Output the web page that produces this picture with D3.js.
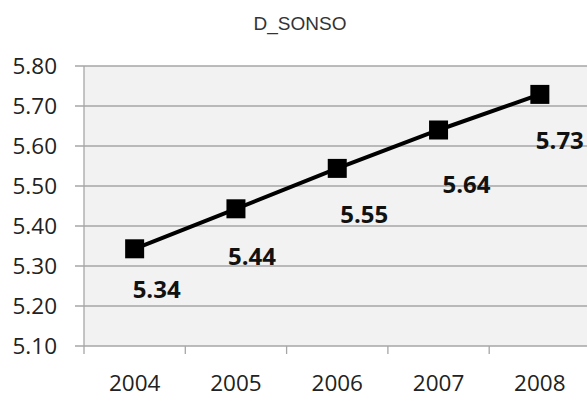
<!DOCTYPE html>
<html><head><meta charset="utf-8">
<script src="https://cdn.jsdelivr.net/npm/d3@7"></script>
<style>body{margin:0;background:#fff}svg{display:block}</style>
</head><body>
<svg id="c" width="587" height="398"></svg>
<script>
const title = "D_SONSO";
const years = ["2004","2005","2006","2007","2008"];
const values = [5.343, 5.443, 5.544, 5.640, 5.729];
const labels = ["5.34","5.44","5.55","5.64","5.73"];
const yTicks = [5.10,5.20,5.30,5.40,5.50,5.60,5.70,5.80];
// manual label offsets (px) as placed in the original chart
const labelDx = [22, 16, 27, 28, 20];
const labelDy = [41, 48, 46, 54, 46];

(function(){
const svg = d3.select("#c");
const pL = 84, pR = 590.5, pT = 66, pB = 346;
const x = d3.scaleBand().domain(years).range([pL, pR]);
const y = d3.scaleLinear().domain([5.10, 5.80]).range([pB, pT]);

svg.append("text").attr("x", 300).attr("y", 30).attr("text-anchor","middle")
  .attr("font-family","Liberation Sans, Arial, sans-serif").attr("font-size",19)
  .attr("fill","#333").text(title);

svg.append("rect").attr("x",pL).attr("y",pT).attr("width",pR-pL).attr("height",pB-pT).attr("fill","#f2f2f2");

svg.append("g").selectAll("line").data(yTicks).join("line")
  .attr("x1", pL-9).attr("x2", pR).attr("y1", d=>y(d)).attr("y2", d=>y(d))
  .attr("stroke","#a6a6a6").attr("stroke-width",1.3);

svg.append("line").attr("x1",pL).attr("x2",pL).attr("y1",pT).attr("y2",pB+8)
  .attr("stroke","#a6a6a6").attr("stroke-width",1.3);

const xt = years.slice(1).map(d=>x(d));
svg.append("g").selectAll("line").data(xt).join("line")
  .attr("x1",d=>d).attr("x2",d=>d).attr("y1",pB).attr("y2",pB+8)
  .attr("stroke","#a6a6a6").attr("stroke-width",1.3);

svg.append("g").selectAll("text").data(yTicks).join("text")
  .attr("x",57).attr("y",d=>y(d)+8).attr("text-anchor","end")
  .attr("font-family","Open Sans, sans-serif").attr("font-size",22.5).attr("fill","#222")
  .text(d=>d.toFixed(2));

svg.append("g").selectAll("text").data(years).join("text")
  .attr("x",d=>x(d)+x.bandwidth()/2).attr("y",391).attr("text-anchor","middle")
  .attr("font-family","Open Sans, sans-serif").attr("font-size",22.5).attr("fill","#222")
  .text(d=>d);

const cx = i => x(years[i]) + x.bandwidth()/2;
const line = d3.line().x((d,i)=>cx(i)).y(d=>y(d));
svg.append("path").datum(values).attr("d",line).attr("fill","none")
  .attr("stroke","#000").attr("stroke-width",4);

const ms = 19;
svg.append("g").selectAll("rect").data(values).join("rect")
  .attr("x",(d,i)=>cx(i)-ms/2).attr("y",d=>y(d)-ms/2).attr("width",ms).attr("height",ms).attr("fill","#000");

svg.append("g").selectAll("text").data(values).join("text")
  .attr("x",(d,i)=>cx(i)+labelDx[i]).attr("y",(d,i)=>y(d)+labelDy[i]+8.5)
  .attr("text-anchor","middle").attr("font-family","Open Sans, sans-serif")
  .attr("font-weight","bold").attr("font-size",24).attr("fill","#111")
  .text((d,i)=>labels[i]);
})();
</script>
</body></html>
